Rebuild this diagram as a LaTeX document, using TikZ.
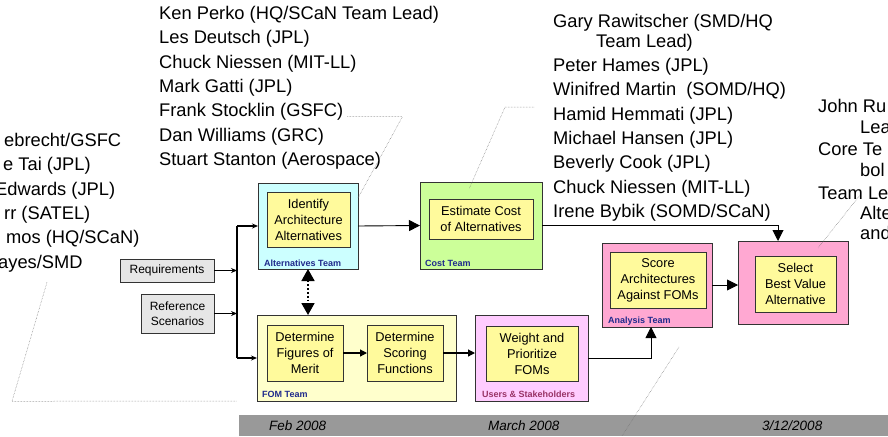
\documentclass[tikz,border=0pt]{standalone}
\usepackage{fontspec}
\setmainfont{Liberation Sans}
\usetikzlibrary{arrows.meta}

\definecolor{altcyan}{HTML}{CCFFFF}
\definecolor{costgreen}{HTML}{CCFF99}
\definecolor{fomcream}{HTML}{FFFFCC}
\definecolor{usrpink}{HTML}{FFCCFF}
\definecolor{anapink}{HTML}{FFA8D2}
\definecolor{taskyellow}{HTML}{FFFA9C}
\definecolor{givengray}{HTML}{E6E6E6}
\definecolor{lblblue}{HTML}{1F2A8C}
\definecolor{lblplum}{HTML}{993366}
\definecolor{bargray}{HTML}{999999}

\begin{document}
\begin{tikzpicture}[x=1pt, y=-1pt,
  team/.style={rectangle, draw=black!80, line width=0.8pt, inner sep=0pt, outer sep=0pt, anchor=north west},
  task/.style={team, fill=taskyellow, align=center, font=\fontsize{12.8}{16}\selectfont},
  given/.style={team, fill=givengray, align=center, font=\fontsize{12}{15.5}\selectfont},
  teamlbl/.style={anchor=base west, inner sep=0pt, font=\fontsize{9}{10}\selectfont\bfseries, text=lblblue},
  names/.style={anchor=base west, inner sep=0pt, font=\fontsize{18.3}{22}\selectfont},
  datelbl/.style={anchor=base west, inner sep=0pt, font=\fontsize{13.5}{16}\selectfont\itshape},
  callout/.style={densely dotted, black!55, line width=0.5pt},
  bigtip/.style={-{Triangle[length=11pt, width=11pt]}, line width=0.9pt},
  smalltip/.style={-{Stealth[length=6pt, width=5pt]}, line width=1.6pt},
  medtip/.style={-{Triangle[length=7pt, width=7pt]}, line width=1.2pt},
  dottip/.style={{Triangle[length=12pt, width=13pt]}-{Triangle[length=12pt, width=13pt]}, dotted, line width=1.8pt}
]
  \useasboundingbox (0,0) rectangle (888,436);
  \clip (0,0) rectangle (888,436);

  % team members
  \foreach \nm [count=\i from 0] in {Ken Perko (HQ/SCaN Team Lead), Les Deutsch (JPL), Chuck Niessen (MIT-LL), Mark Gatti (JPL), Frank Stocklin (GSFC), Dan Williams (GRC), Stuart Stanton (Aerospace)}
    \node[names] (aN\i) at (159, 19.3+24.35*\i) {\nm};

  \node[names] (cG) at (553,28) {Gary Rawitscher (SMD/HQ};
  \node[names] (cT) at (596,48) {Team Lead)};
  \foreach \nm [count=\i from 0] in {Peter Hames (JPL), Winifred Martin\ \ (SOMD/HQ), Hamid Hemmati (JPL), Michael Hansen (JPL), Beverly Cook (JPL), Chuck Niessen (MIT-LL), Irene Bybik (SOMD/SCaN)}
    \node[names] (cN\i) at (553, 71.3+24.4*\i) {\nm};

  \foreach \x/\nm [count=\i from 0] in {4/{ebrecht/GSFC}, 3/{e Tai (JPL)}, -5/{Edwards (JPL)}, 4/{rr (SATEL)}, 6/{mos (HQ/SCaN)}, -2/{ayes/SMD}}
    \node[names] (lN\i) at (\x, 146.3+24.4*\i) {\nm};

  \foreach \x/\y/\nm [count=\i from 0] in {818/112/John Ru, 860/133/Lea, 818/155/Core Te, 860/176/bol, 818/199/Team Le, 860/219/Alte, 860/239/and}
    \node[names] (rN\i) at (\x,\y) {\nm};

  % inputs
  \node[given, minimum width=94pt, minimum height=23pt] (req) at (120,259) {Requirements};
  \node[given, minimum width=73pt, minimum height=39pt] (scen) at (141,294) {Reference\\Scenarios};

  % teams
  \node[team, fill=altcyan, minimum width=100pt, minimum height=86pt] (ALT) at (258,183) {};
  \node[team, fill=costgreen, minimum width=122pt, minimum height=87pt] (COST) at (420,182) {};
  \node[team, fill=fomcream, minimum width=199pt, minimum height=86pt] (FOM) at (257,315) {};
  \node[team, fill=usrpink, minimum width=113pt, minimum height=86pt] (USR) at (475,315) {};
  \node[team, fill=anapink, minimum width=110pt, minimum height=84pt] (ANA) at (602,243) {};
  \node[team, fill=anapink, minimum width=110pt, minimum height=83pt] (SEL) at (738,241) {};

  \node[teamlbl] (altL) at ([xshift=6pt, yshift=3pt]ALT.south west) {Alternatives Team};
  \node[teamlbl] (costL) at ([xshift=5pt, yshift=3pt]COST.south west) {Cost Team};
  \node[teamlbl] (fomL) at ([xshift=5pt, yshift=4pt]FOM.south west) {FOM Team};
  \node[teamlbl, text=lblplum] (usrL) at ([xshift=7pt, yshift=4pt]USR.south west) {Users \& Stakeholders};
  \node[teamlbl] (anaL) at ([xshift=6pt, yshift=4pt]ANA.south west) {Analysis Team};

  % steps
  \node[task, minimum width=83pt, minimum height=55pt] (idA) at (267,192) {Identify\\Architecture\\Alternatives};
  \node[task, minimum width=104pt, minimum height=40pt] (estC) at (429,199) {Estimate Cost\\of Alternatives};
  \node[task, minimum width=76pt, minimum height=56pt] (detF) at (267,325) {Determine\\Figures of\\Merit};
  \node[task, minimum width=76pt, minimum height=56pt] (detS) at (367,325) {Determine\\Scoring\\Functions};
  \node[task, minimum width=92pt, minimum height=55pt] (wgt) at (486,326) {Weight and\\Prioritize\\FOMs};
  \node[task, minimum width=96pt, minimum height=56pt] (scr) at (610,252) {Score\\Architectures\\Against FOMs};
  \node[task, minimum width=81pt, minimum height=56pt] (sel) at (755,256) {Select\\Best Value\\Alternative};

  % flow
  \coordinate (bus) at (237,0);
  \draw[line width=1.6pt] (ALT.west -| bus) -- (FOM.west -| bus);
  \foreach \tgt in {ALT, FOM}
    \draw[smalltip] (\tgt.west -| bus) -- (\tgt.west);
  \foreach \src in {req, scen}
    \draw[smalltip] (\src.east) -- (\src.east -| bus);

  \draw[bigtip] (ALT.east) -- (COST.west);
  \draw[bigtip] (COST.east) -| ([xshift=-15pt]SEL.north);
  \draw[dottip] (ALT.south) -- (ALT.south |- FOM.north);
  \draw[medtip] (detF) -- (detS);
  \draw[medtip] (detS.east) -- (detS.east -| USR.west);
  \draw[bigtip] (USR.east) -| ([xshift=-6pt]ANA.south);
  \draw[bigtip] (ANA.east) -- (ANA.east -| SEL.west);

  % date bar
  \node[fill=bargray, inner sep=0pt, outer sep=0pt, anchor=north west, minimum width=649pt, minimum height=21pt] (bar) at (239,415) {};
  \foreach \dx/\dt [count=\i] in {30/Feb 2008, 249/March 2008, 523/{3/12/2008}}
    \node[datelbl] (d\i) at ([xshift=\dx pt, yshift=6pt]bar.south west) {\dt};

  % callouts
  \coordinate (mEnd) at (622,436);
  \draw[callout] ([xshift=4pt]aN4.base east) -- ++(55,0) -- ([yshift=-15pt]ALT.north east);
  \draw[callout] ([xshift=-19pt, yshift=13pt]cN2.base west) -- ++(-29,0) -- ([xshift=49pt, yshift=-7pt]COST.north west);
  \draw[callout] ([xshift=42pt, yshift=4pt]rN4.base west) -- ([xshift=80pt, yshift=-7pt]SEL.north west);
  \draw[callout] ([xshift=49pt, yshift=-14pt]lN5.base west) -- ++(-35,119) -- (FOM.south west -| bus);
  \draw[callout] ([xshift=22pt, yshift=-20pt]ANA.south) -- (mEnd);
\end{tikzpicture}
\end{document}
